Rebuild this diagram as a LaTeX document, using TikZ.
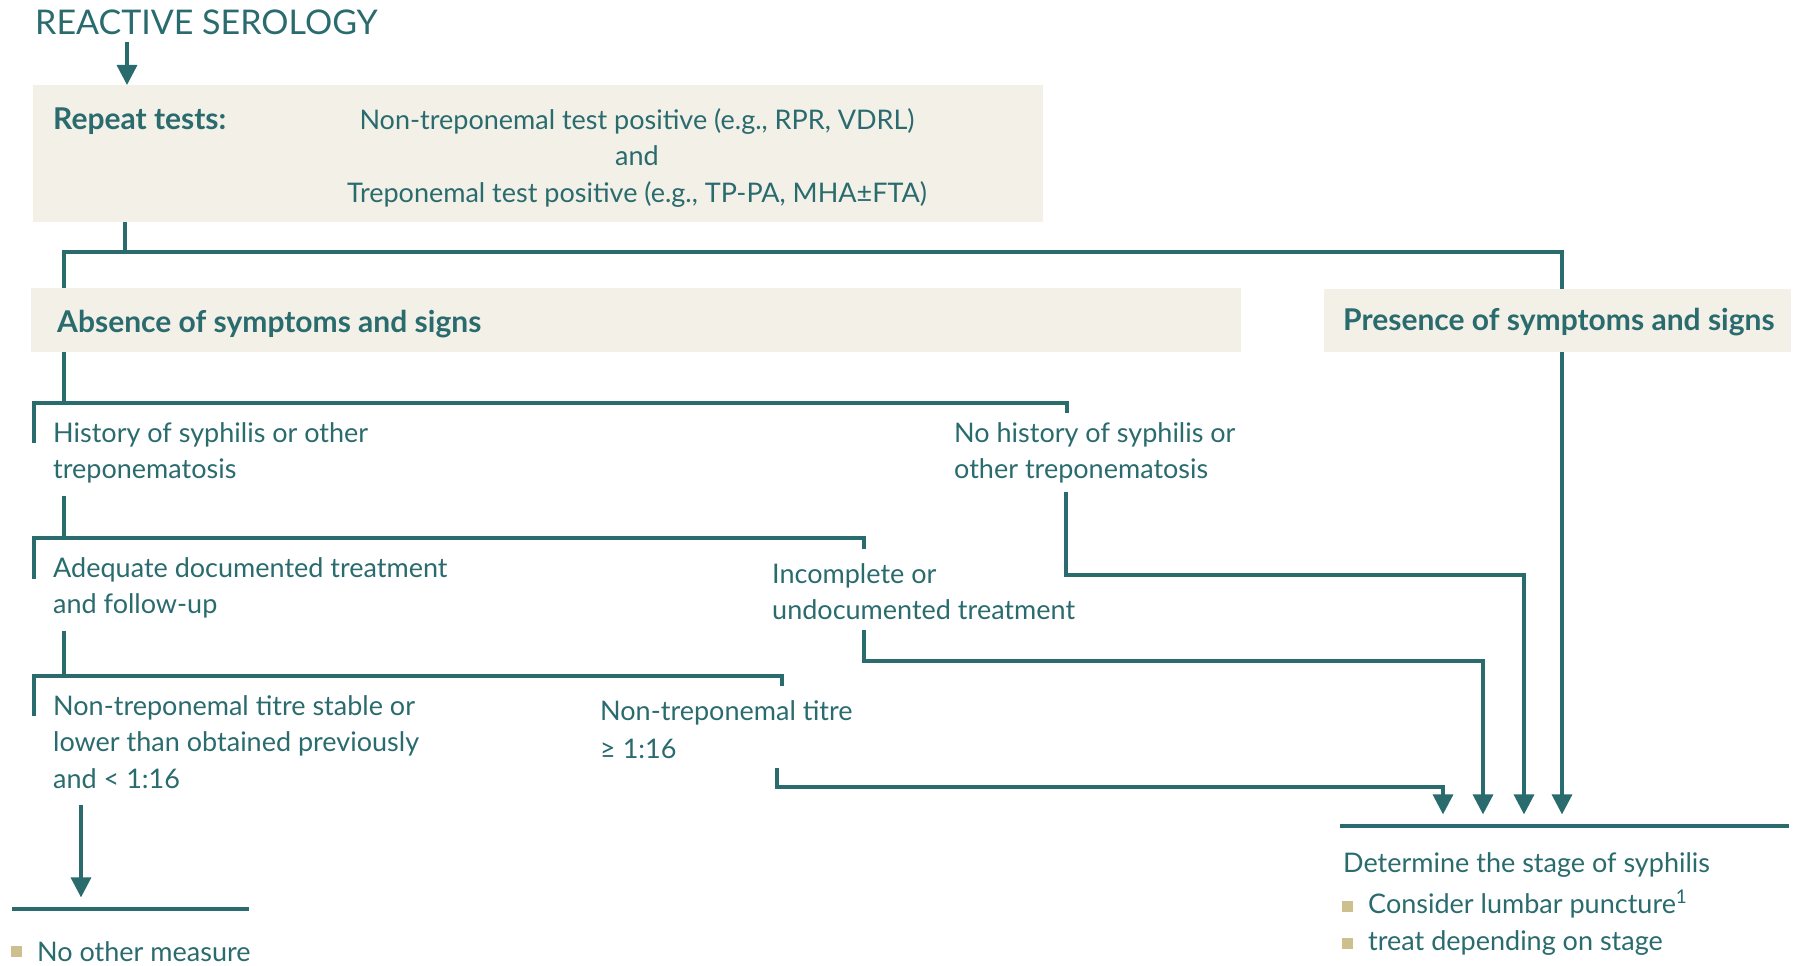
\documentclass[tikz,border=0pt]{standalone}
\usepackage{fontspec}
\setmainfont{Lato}
\usetikzlibrary{arrows.meta}
\definecolor{teal1}{HTML}{2A6B6E}
\definecolor{boxfill}{HTML}{F3F0E8}
\definecolor{bullet}{HTML}{CDBF8E}
\newcommand\hd{\rule{0pt}{30pt}}
\begin{document}
\begin{tikzpicture}[x=1pt,y=-1pt,
  ln/.style={draw=teal1, line width=3.4pt},
  arr/.style={ln, -{Triangle[width=20pt,length=20pt]}},
  box/.style={fill=boxfill, draw=none, anchor=north west, inner sep=0},
  txt/.style={text=teal1, anchor=north west, inner sep=0, align=left,
    font=\fontsize{27}{36.5}\selectfont},
  hdr/.style={text=teal1, anchor=base west, inner sep=0,
    font=\fontsize{30}{36}\selectfont\bfseries},
  ttl/.style={text=teal1, anchor=base west, inner sep=0,
    font=\fontsize{34}{40}\selectfont},
  sq/.style={fill=bullet, minimum size=11pt, inner sep=0, anchor=north west},
  bar/.style={fill=teal1, inner sep=0, minimum height=4.8pt, anchor=west}]
\useasboundingbox (0,0) rectangle (1805,966);

% heading and the first box
\node[ttl] (title) at (35,35) {REACTIVE SEROLOGY};
\node[box, minimum width=1010pt, minimum height=137pt] (b1) at (33,85) {};
\node[hdr] (rep) at (53,129) {Repeat tests:};
\node[txt, anchor=north, align=center] (tests) at (637,99)
  {\hd Non-treponemal test positive (e.g., RPR, VDRL)\\and\\Treponemal test positive (e.g., TP-PA, MHA±FTA)};
\coordinate (t0) at (127,42);
\draw[arr] (t0) -- (t0 |- b1.north);

% symptom boxes
\node[box, minimum width=1210pt, minimum height=64pt] (b2) at (31,288) {};
\node[hdr] (abs) at (57,332) {Absence of symptoms and signs};
\node[box, minimum width=467pt, minimum height=63pt] (b3) at (1324,289) {};
\node[hdr] (pres) at (1343,330) {Presence of symptoms and signs};

\coordinate (j0) at (125,252);
\coordinate (cA) at (64,252);
\coordinate (cP) at (1562,252);
\draw[ln] (b1.south -| j0) -- (j0);
\draw[ln] (b2.north -| cA) -- (cA) -- (cP) -- (b3.north -| cP);

% history branch
\coordinate (h1L) at (34,403);
\coordinate (h1R) at (1067,403);
\draw[ln] (b2.south -| cA) -- (cA |- h1L);
\draw[ln] ([yshift=-40pt]h1L) -- (h1L) -- (h1R) -- ([yshift=-10pt]h1R);
\node[txt] (hist) at (53,412) {\hd History of syphilis or other\\treponematosis};
\node[txt] (nohist) at (954,412) {\hd No history of syphilis or\\other treponematosis};

% treatment branch
\coordinate (h2L) at (34,538);
\coordinate (h2R) at (864,538);
\draw[ln] ([yshift=-12pt]hist.south -| cA) -- (cA |- h2L);
\draw[ln] ([yshift=-41pt]h2L) -- (h2L) -- (h2R) -- ([yshift=-11pt]h2R);
\node[txt] (adeq) at (53,547) {\hd Adequate documented treatment\\and follow-up};
\node[txt] (incomp) at (772,553) {\hd Incomplete or\\undocumented treatment};

% titre branch
\coordinate (h3L) at (34,676);
\coordinate (h3R) at (782,676);
\draw[ln] ([yshift=-12pt]adeq.south -| cA) -- (cA |- h3L);
\draw[ln] ([yshift=-40pt]h3L) -- (h3L) -- (h3R) -- ([yshift=-10pt]h3R);
\node[txt] (stable) at (53,685) {\hd Non-treponemal titre stable or\\lower than obtained previously\\and < 1:16};
\node[txt, font=\fontsize{27}{38}\selectfont] (titre) at (600,690) {\hd Non-treponemal titre\\≥ 1:16};

% outcome: staging
\node[bar, minimum width=449pt] (fin) at (1340,826) {};
\coordinate (x1) at (777,787);
\coordinate (x2) at (1483,661);
\coordinate (x3) at (1524,575);
\draw[arr] ([yshift=-9pt]titre.south -| x1) -- (x1) -| ([yshift=9pt]fin.north -| 1443,0);
\draw[arr] ([yshift=-10pt]incomp.south -| 864,0) |- (x2) -- ([yshift=9pt]fin.north -| x2);
\draw[arr] ([yshift=-8pt]nohist.south -| 1066,0) |- (x3) -- ([yshift=9pt]fin.north -| x3);
\draw[arr] (b3.south -| cP) -- ([yshift=9pt]fin.north -| cP);
\node[txt, anchor=base west] (stage) at (1343,872) {Determine the stage of syphilis};
\node[sq] (s1) at (1342,901) {};
\node[txt, anchor=base west] (lp) at (1368,913) {Consider lumbar puncture\textsuperscript{1}};
\node[sq] (s2) at (1342,938) {};
\node[txt, anchor=base west] (treat) at (1368,950) {treat depending on stage};

% outcome: nothing further
\node[bar, minimum width=237pt] (none) at (12,909) {};
\draw[arr] ([yshift=-16pt]stable.south -| 81,0) -- ([yshift=9pt]none.north -| 81,0);
\node[sq] (s3) at (11,946) {};
\node[txt, anchor=base west] (nom) at (37,961) {No other measure};
\end{tikzpicture}
\end{document}
